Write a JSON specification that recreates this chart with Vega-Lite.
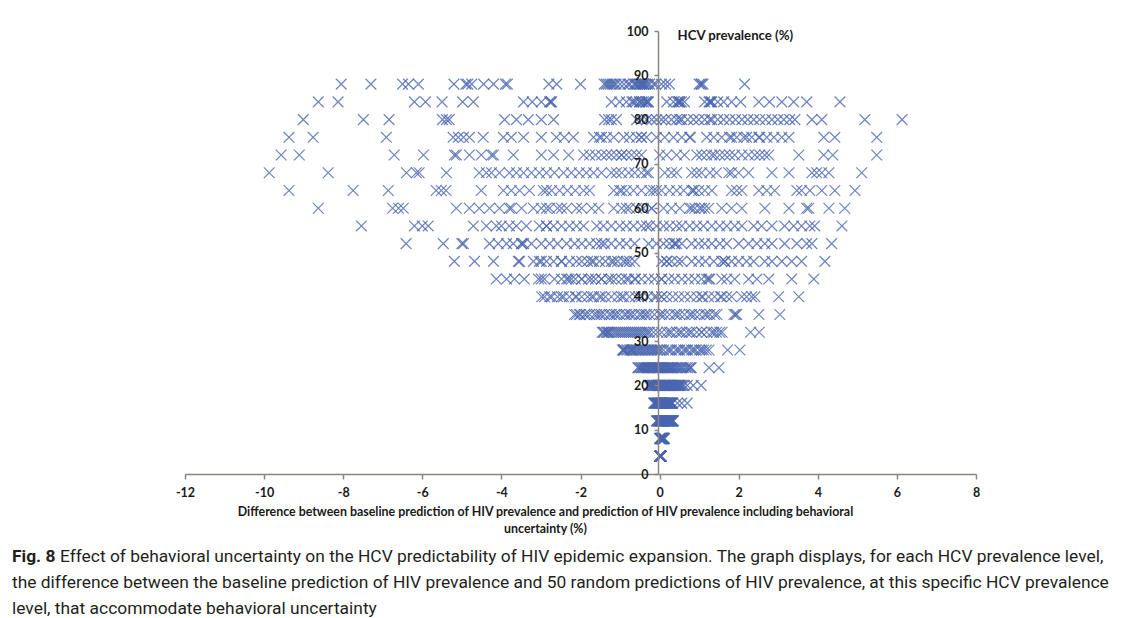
{
"$schema": "https://vega.github.io/schema/vega-lite/v6.json",
"width": 791, "height": 443,
"autosize": {"type": "none"},
"padding": {"left": 185, "top": 31, "right": 165, "bottom": 144},
"background": "white",
"config": {"view": {"stroke": null}, "font": "Lato"},
"title": {
 "text": "Fig. 8",
 "subtitle": ["\u2800\u2800\u2800\u2800Effect of behavioral uncertainty on the HCV predictability of HIV epidemic expansion. The graph displays, for each HCV prevalence level,", "the difference between the baseline prediction of HIV prevalence and 50 random predictions of HIV prevalence, at this specific HCV prevalence", "level, that accommodate behavioral uncertainty"],
 "orient": "bottom", "anchor": "start", "frame": "group", "dx": -173, "offset": 14,
 "font": "Roboto", "fontSize": 17.4, "fontWeight": "bold", "color": "#231f20",
 "subtitleFont": "Roboto", "subtitleFontSize": 17.4, "subtitleColor": "#231f20", "subtitleLineHeight": 26, "subtitlePadding": -17.4, "subtitleFontWeight": "normal"
},
"data": {"values": [
{"h":88,"d":-8.05},{"h":88,"d":-7.3},{"h":88,"d":-6.5},{"h":88,"d":-6.35},{"h":88,"d":-6.1},{"h":88,"d":-5.2},{"h":88,"d":-4.9},{"h":88,"d":-4.85},{"h":88,"d":-4.75},{"h":88,"d":-4.45},{"h":88,"d":-4.2},{"h":88,"d":-3.9},{"h":88,"d":-3.85},{"h":88,"d":-2.8},{"h":88,"d":-2.6},{"h":88,"d":-2.0},{"h":88,"d":-1.4},{"h":88,"d":-1.35},{"h":88,"d":-1.3},{"h":88,"d":-1.25},{"h":88,"d":-1.2},{"h":88,"d":-1.15},{"h":88,"d":-1.0},{"h":88,"d":-0.9},{"h":88,"d":-0.8},{"h":88,"d":-0.75},{"h":88,"d":-0.65},{"h":88,"d":-0.6},{"h":88,"d":-0.55},{"h":88,"d":-0.5},{"h":88,"d":-0.5},{"h":88,"d":-0.45},{"h":88,"d":-0.4},{"h":88,"d":-0.4},{"h":88,"d":-0.35},{"h":88,"d":-0.3},{"h":88,"d":-0.25},{"h":88,"d":-0.15},{"h":88,"d":-0.1},{"h":88,"d":0.05},{"h":88,"d":0.15},{"h":88,"d":0.25},{"h":88,"d":1.0},{"h":88,"d":1.05},{"h":88,"d":1.05},{"h":88,"d":1.1},{"h":88,"d":2.15},{"h":88,"d":-0.6},{"h":88,"d":-1.1},{"h":88,"d":-0.45},
{"h":84,"d":-8.63},{"h":84,"d":-8.13},{"h":84,"d":-6.2},{"h":84,"d":-5.92},{"h":84,"d":-5.5},{"h":84,"d":-4.98},{"h":84,"d":-4.71},{"h":84,"d":-3.44},{"h":84,"d":-3.22},{"h":84,"d":-2.99},{"h":84,"d":-2.78},{"h":84,"d":-2.73},{"h":84,"d":-1.22},{"h":84,"d":-1.01},{"h":84,"d":-0.84},{"h":84,"d":-0.66},{"h":84,"d":-0.51},{"h":84,"d":-0.41},{"h":84,"d":-0.33},{"h":84,"d":-0.28},{"h":84,"d":0.18},{"h":84,"d":0.35},{"h":84,"d":0.48},{"h":84,"d":0.51},{"h":84,"d":0.63},{"h":84,"d":1.14},{"h":84,"d":1.27},{"h":84,"d":1.32},{"h":84,"d":1.47},{"h":84,"d":1.62},{"h":84,"d":1.82},{"h":84,"d":2.05},{"h":84,"d":2.51},{"h":84,"d":2.78},{"h":84,"d":3.09},{"h":84,"d":3.39},{"h":84,"d":3.72},{"h":84,"d":4.56},{"h":84,"d":-0.45},{"h":84,"d":-0.5},{"h":84,"d":-0.6},{"h":84,"d":-0.7},{"h":84,"d":0.45},{"h":84,"d":0.5},{"h":84,"d":1.25},{"h":84,"d":1.3},{"h":84,"d":-2.75},{"h":84,"d":0.55},{"h":84,"d":-0.35},{"h":84,"d":-0.3},
{"h":80,"d":-9.01},{"h":80,"d":-7.49},{"h":80,"d":-6.84},{"h":80,"d":-5.49},{"h":80,"d":-5.39},{"h":80,"d":-5.32},{"h":80,"d":-3.92},{"h":80,"d":-3.62},{"h":80,"d":-3.32},{"h":80,"d":-2.99},{"h":80,"d":-2.68},{"h":80,"d":-1.39},{"h":80,"d":-1.29},{"h":80,"d":-1.22},{"h":80,"d":-1.09},{"h":80,"d":-0.58},{"h":80,"d":-0.46},{"h":80,"d":-0.33},{"h":80,"d":-0.2},{"h":80,"d":-0.08},{"h":80,"d":0.05},{"h":80,"d":0.15},{"h":80,"d":0.3},{"h":80,"d":0.43},{"h":80,"d":0.51},{"h":80,"d":0.56},{"h":80,"d":0.71},{"h":80,"d":0.86},{"h":80,"d":0.99},{"h":80,"d":1.14},{"h":80,"d":1.27},{"h":80,"d":1.32},{"h":80,"d":1.47},{"h":80,"d":1.62},{"h":80,"d":1.77},{"h":80,"d":1.92},{"h":80,"d":2.08},{"h":80,"d":2.23},{"h":80,"d":2.38},{"h":80,"d":2.53},{"h":80,"d":2.68},{"h":80,"d":2.84},{"h":80,"d":2.99},{"h":80,"d":3.14},{"h":80,"d":3.29},{"h":80,"d":3.42},{"h":80,"d":3.85},{"h":80,"d":4.1},{"h":80,"d":5.19},{"h":80,"d":6.13},
{"h":76,"d":-9.37},{"h":76,"d":-8.76},{"h":76,"d":-6.91},{"h":76,"d":-5.22},{"h":76,"d":-5.09},{"h":76,"d":-4.96},{"h":76,"d":-4.81},{"h":76,"d":-4.46},{"h":76,"d":-3.95},{"h":76,"d":-3.75},{"h":76,"d":-3.44},{"h":76,"d":-2.99},{"h":76,"d":-2.61},{"h":76,"d":-2.41},{"h":76,"d":-2.18},{"h":76,"d":-1.67},{"h":76,"d":-1.52},{"h":76,"d":-1.34},{"h":76,"d":-1.16},{"h":76,"d":-0.91},{"h":76,"d":-0.76},{"h":76,"d":-0.58},{"h":76,"d":-0.46},{"h":76,"d":-0.33},{"h":76,"d":-0.08},{"h":76,"d":0.13},{"h":76,"d":0.35},{"h":76,"d":0.56},{"h":76,"d":0.76},{"h":76,"d":0.78},{"h":76,"d":1.19},{"h":76,"d":1.37},{"h":76,"d":1.57},{"h":76,"d":1.77},{"h":76,"d":1.82},{"h":76,"d":1.95},{"h":76,"d":2.13},{"h":76,"d":2.33},{"h":76,"d":2.51},{"h":76,"d":2.53},{"h":76,"d":2.71},{"h":76,"d":2.89},{"h":76,"d":3.09},{"h":76,"d":3.27},{"h":76,"d":4.15},{"h":76,"d":4.43},{"h":76,"d":2.2},{"h":76,"d":5.49},{"h":76,"d":-1.47},{"h":76,"d":-0.46},
{"h":72,"d":-9.57},{"h":72,"d":-9.11},{"h":72,"d":-6.71},{"h":72,"d":-5.97},{"h":72,"d":-5.19},{"h":72,"d":-5.14},{"h":72,"d":-4.81},{"h":72,"d":-4.51},{"h":72,"d":-4.25},{"h":72,"d":-4.2},{"h":72,"d":-3.7},{"h":72,"d":-2.99},{"h":72,"d":-2.68},{"h":72,"d":-2.3},{"h":72,"d":-1.92},{"h":72,"d":-1.77},{"h":72,"d":-1.62},{"h":72,"d":-1.47},{"h":72,"d":-1.34},{"h":72,"d":-1.22},{"h":72,"d":-1.09},{"h":72,"d":-0.96},{"h":72,"d":-0.84},{"h":72,"d":-0.71},{"h":72,"d":-0.58},{"h":72,"d":-0.46},{"h":72,"d":0.0},{"h":72,"d":0.18},{"h":72,"d":0.43},{"h":72,"d":0.63},{"h":72,"d":0.94},{"h":72,"d":1.06},{"h":72,"d":1.19},{"h":72,"d":1.32},{"h":72,"d":1.39},{"h":72,"d":1.52},{"h":72,"d":1.65},{"h":72,"d":1.77},{"h":72,"d":1.9},{"h":72,"d":2.08},{"h":72,"d":2.25},{"h":72,"d":2.41},{"h":72,"d":2.53},{"h":72,"d":2.66},{"h":72,"d":2.76},{"h":72,"d":3.52},{"h":72,"d":4.15},{"h":72,"d":4.38},{"h":72,"d":5.49},{"h":72,"d":-0.96},
{"h":68,"d":-9.87},{"h":68,"d":-8.38},{"h":68,"d":-6.4},{"h":68,"d":-6.15},{"h":68,"d":-6.08},{"h":68,"d":-5.39},{"h":68,"d":-4.56},{"h":68,"d":-4.38},{"h":68,"d":-4.25},{"h":68,"d":-4.05},{"h":68,"d":-3.8},{"h":68,"d":-3.62},{"h":68,"d":-3.44},{"h":68,"d":-3.24},{"h":68,"d":-3.04},{"h":68,"d":-2.86},{"h":68,"d":-2.66},{"h":68,"d":-2.43},{"h":68,"d":-2.23},{"h":68,"d":-2.03},{"h":68,"d":-1.85},{"h":68,"d":-1.67},{"h":68,"d":-1.47},{"h":68,"d":-1.22},{"h":68,"d":-1.09},{"h":68,"d":-0.96},{"h":68,"d":-0.78},{"h":68,"d":-0.63},{"h":68,"d":-0.46},{"h":68,"d":-0.33},{"h":68,"d":-0.28},{"h":68,"d":0.13},{"h":68,"d":0.3},{"h":68,"d":0.43},{"h":68,"d":0.81},{"h":68,"d":0.94},{"h":68,"d":1.06},{"h":68,"d":1.27},{"h":68,"d":1.44},{"h":68,"d":1.75},{"h":68,"d":1.82},{"h":68,"d":2.0},{"h":68,"d":2.25},{"h":68,"d":2.84},{"h":68,"d":3.27},{"h":68,"d":3.85},{"h":68,"d":3.97},{"h":68,"d":4.1},{"h":68,"d":4.28},{"h":68,"d":5.11},
{"h":64,"d":-9.37},{"h":64,"d":-7.75},{"h":64,"d":-6.86},{"h":64,"d":-5.65},{"h":64,"d":-5.52},{"h":64,"d":-5.4},{"h":64,"d":-4.51},{"h":64,"d":-3.95},{"h":64,"d":-3.75},{"h":64,"d":-3.54},{"h":64,"d":-3.29},{"h":64,"d":-2.94},{"h":64,"d":-2.73},{"h":64,"d":-2.53},{"h":64,"d":-2.33},{"h":64,"d":-2.13},{"h":64,"d":-1.92},{"h":64,"d":-1.77},{"h":64,"d":-1.16},{"h":64,"d":-1.01},{"h":64,"d":-0.84},{"h":64,"d":-0.66},{"h":64,"d":-0.46},{"h":64,"d":-0.25},{"h":64,"d":-0.08},{"h":64,"d":-0.15},{"h":64,"d":0.05},{"h":64,"d":0.25},{"h":64,"d":0.43},{"h":64,"d":0.61},{"h":64,"d":0.81},{"h":64,"d":0.86},{"h":64,"d":0.99},{"h":64,"d":1.14},{"h":64,"d":1.32},{"h":64,"d":1.82},{"h":64,"d":1.95},{"h":64,"d":2.08},{"h":64,"d":2.51},{"h":64,"d":2.71},{"h":64,"d":2.91},{"h":64,"d":3.47},{"h":64,"d":3.59},{"h":64,"d":3.8},{"h":64,"d":4.1},{"h":64,"d":4.43},{"h":64,"d":4.94},{"h":64,"d":-0.96},{"h":64,"d":-2.86},{"h":64,"d":0.86},
{"h":60,"d":-8.63},{"h":60,"d":-6.75},{"h":60,"d":-6.6},{"h":60,"d":-6.48},{"h":60,"d":-5.14},{"h":60,"d":-4.81},{"h":60,"d":-4.56},{"h":60,"d":-4.3},{"h":60,"d":-4.05},{"h":60,"d":-3.8},{"h":60,"d":-3.49},{"h":60,"d":-3.19},{"h":60,"d":-2.99},{"h":60,"d":-2.78},{"h":60,"d":-2.58},{"h":60,"d":-2.35},{"h":60,"d":-2.1},{"h":60,"d":-1.97},{"h":60,"d":-1.72},{"h":60,"d":-1.54},{"h":60,"d":-1.16},{"h":60,"d":-0.96},{"h":60,"d":-0.76},{"h":60,"d":-0.58},{"h":60,"d":-0.41},{"h":60,"d":-0.2},{"h":60,"d":0.1},{"h":60,"d":0.3},{"h":60,"d":0.51},{"h":60,"d":0.76},{"h":60,"d":0.89},{"h":60,"d":1.01},{"h":60,"d":1.14},{"h":60,"d":1.24},{"h":60,"d":1.57},{"h":60,"d":1.82},{"h":60,"d":2.08},{"h":60,"d":2.66},{"h":60,"d":3.27},{"h":60,"d":3.72},{"h":60,"d":3.77},{"h":60,"d":4.28},{"h":60,"d":4.68},{"h":60,"d":-2.48},{"h":60,"d":1.06},{"h":60,"d":-0.84},{"h":60,"d":-2.86},{"h":60,"d":0.81},{"h":60,"d":-3.75},{"h":60,"d":-0.2},
{"h":56,"d":-7.54},{"h":56,"d":-6.2},{"h":56,"d":-6.0},{"h":56,"d":-5.85},{"h":56,"d":-4.71},{"h":56,"d":-4.38},{"h":56,"d":-4.13},{"h":56,"d":-4.0},{"h":56,"d":-3.8},{"h":56,"d":-3.62},{"h":56,"d":-3.37},{"h":56,"d":-3.04},{"h":56,"d":-2.86},{"h":56,"d":-2.68},{"h":56,"d":-2.48},{"h":56,"d":-2.28},{"h":56,"d":-2.1},{"h":56,"d":-1.92},{"h":56,"d":-1.59},{"h":56,"d":-1.42},{"h":56,"d":-1.22},{"h":56,"d":-1.01},{"h":56,"d":-0.84},{"h":56,"d":-0.66},{"h":56,"d":-0.46},{"h":56,"d":-0.25},{"h":56,"d":-0.08},{"h":56,"d":0.1},{"h":56,"d":0.25},{"h":56,"d":0.43},{"h":56,"d":0.56},{"h":56,"d":0.76},{"h":56,"d":0.94},{"h":56,"d":1.11},{"h":56,"d":1.32},{"h":56,"d":1.52},{"h":56,"d":1.7},{"h":56,"d":1.9},{"h":56,"d":2.08},{"h":56,"d":2.38},{"h":56,"d":2.58},{"h":56,"d":2.84},{"h":56,"d":3.16},{"h":56,"d":3.39},{"h":56,"d":3.59},{"h":56,"d":3.8},{"h":56,"d":3.92},{"h":56,"d":4.61},{"h":56,"d":-2.86},{"h":56,"d":-0.33},
{"h":52,"d":-6.41},{"h":52,"d":-5.47},{"h":52,"d":-5.0},{"h":52,"d":-4.96},{"h":52,"d":-4.3},{"h":52,"d":-4.08},{"h":52,"d":-3.87},{"h":52,"d":-3.7},{"h":52,"d":-3.49},{"h":52,"d":-3.44},{"h":52,"d":-3.24},{"h":52,"d":-2.99},{"h":52,"d":-2.78},{"h":52,"d":-2.58},{"h":52,"d":-2.35},{"h":52,"d":-2.15},{"h":52,"d":-1.97},{"h":52,"d":-1.77},{"h":52,"d":-1.59},{"h":52,"d":-1.39},{"h":52,"d":-1.22},{"h":52,"d":-1.01},{"h":52,"d":-0.84},{"h":52,"d":-0.63},{"h":52,"d":-0.28},{"h":52,"d":-0.08},{"h":52,"d":0.1},{"h":52,"d":0.25},{"h":52,"d":0.38},{"h":52,"d":0.43},{"h":52,"d":0.56},{"h":52,"d":0.81},{"h":52,"d":0.99},{"h":52,"d":1.14},{"h":52,"d":1.32},{"h":52,"d":1.52},{"h":52,"d":1.7},{"h":52,"d":2.0},{"h":52,"d":2.25},{"h":52,"d":2.46},{"h":52,"d":2.66},{"h":52,"d":2.84},{"h":52,"d":3.16},{"h":52,"d":3.47},{"h":52,"d":3.72},{"h":52,"d":3.85},{"h":52,"d":4.35},{"h":52,"d":-1.47},{"h":52,"d":-3.49},{"h":52,"d":0.38},
{"h":48,"d":-5.19},{"h":48,"d":-4.68},{"h":48,"d":-4.2},{"h":48,"d":-3.57},{"h":48,"d":-3.54},{"h":48,"d":-3.19},{"h":48,"d":-3.04},{"h":48,"d":-2.86},{"h":48,"d":-2.68},{"h":48,"d":-2.48},{"h":48,"d":-2.28},{"h":48,"d":-2.1},{"h":48,"d":-1.97},{"h":48,"d":-1.82},{"h":48,"d":-1.67},{"h":48,"d":-1.52},{"h":48,"d":-1.37},{"h":48,"d":-1.22},{"h":48,"d":-1.06},{"h":48,"d":-0.91},{"h":48,"d":-0.76},{"h":48,"d":-0.63},{"h":48,"d":0.05},{"h":48,"d":0.18},{"h":48,"d":0.3},{"h":48,"d":0.46},{"h":48,"d":0.56},{"h":48,"d":0.81},{"h":48,"d":0.99},{"h":48,"d":1.16},{"h":48,"d":1.37},{"h":48,"d":1.57},{"h":48,"d":1.65},{"h":48,"d":1.82},{"h":48,"d":2.0},{"h":48,"d":2.2},{"h":48,"d":2.38},{"h":48,"d":2.66},{"h":48,"d":2.84},{"h":48,"d":3.09},{"h":48,"d":3.34},{"h":48,"d":3.59},{"h":48,"d":4.18},{"h":48,"d":-2.99},{"h":48,"d":-1.72},{"h":48,"d":-1.16},{"h":48,"d":0.18},{"h":48,"d":1.65},{"h":48,"d":-2.48},{"h":48,"d":-0.84},
{"h":44,"d":-4.13},{"h":44,"d":-3.87},{"h":44,"d":-3.67},{"h":44,"d":-3.42},{"h":44,"d":-3.06},{"h":44,"d":-2.91},{"h":44,"d":-2.66},{"h":44,"d":-2.48},{"h":44,"d":-2.3},{"h":44,"d":-2.13},{"h":44,"d":-1.97},{"h":44,"d":-1.8},{"h":44,"d":-1.62},{"h":44,"d":-1.47},{"h":44,"d":-1.29},{"h":44,"d":-1.11},{"h":44,"d":-0.96},{"h":44,"d":-0.78},{"h":44,"d":-0.61},{"h":44,"d":-0.46},{"h":44,"d":-0.28},{"h":44,"d":-0.13},{"h":44,"d":0.05},{"h":44,"d":0.23},{"h":44,"d":0.38},{"h":44,"d":0.56},{"h":44,"d":0.73},{"h":44,"d":0.89},{"h":44,"d":1.06},{"h":44,"d":1.24},{"h":44,"d":1.27},{"h":44,"d":1.57},{"h":44,"d":1.7},{"h":44,"d":1.9},{"h":44,"d":2.25},{"h":44,"d":2.46},{"h":44,"d":2.76},{"h":44,"d":3.34},{"h":44,"d":3.9},{"h":44,"d":-2.35},{"h":44,"d":-1.72},{"h":44,"d":-1.22},{"h":44,"d":-0.84},{"h":44,"d":-2.23},{"h":44,"d":-1.47},{"h":44,"d":0.05},{"h":44,"d":-2.99},{"h":44,"d":-1.97},{"h":44,"d":-0.63},{"h":44,"d":1.19},
{"h":40,"d":-2.98},{"h":40,"d":-2.91},{"h":40,"d":-2.73},{"h":40,"d":-2.58},{"h":40,"d":-2.43},{"h":40,"d":-2.28},{"h":40,"d":-2.13},{"h":40,"d":-1.97},{"h":40,"d":-1.82},{"h":40,"d":-1.67},{"h":40,"d":-1.52},{"h":40,"d":-1.37},{"h":40,"d":-1.22},{"h":40,"d":-1.06},{"h":40,"d":-0.91},{"h":40,"d":-0.76},{"h":40,"d":-0.61},{"h":40,"d":-0.46},{"h":40,"d":-0.3},{"h":40,"d":-0.13},{"h":40,"d":0.05},{"h":40,"d":0.18},{"h":40,"d":0.33},{"h":40,"d":0.48},{"h":40,"d":0.63},{"h":40,"d":0.78},{"h":40,"d":0.94},{"h":40,"d":1.09},{"h":40,"d":1.24},{"h":40,"d":1.39},{"h":40,"d":1.54},{"h":40,"d":1.7},{"h":40,"d":1.82},{"h":40,"d":2.08},{"h":40,"d":2.2},{"h":40,"d":2.33},{"h":40,"d":2.41},{"h":40,"d":3.01},{"h":40,"d":3.52},{"h":40,"d":-2.48},{"h":40,"d":-2.1},{"h":40,"d":-1.72},{"h":40,"d":-1.47},{"h":40,"d":-0.96},{"h":40,"d":-0.08},{"h":40,"d":0.05},{"h":40,"d":1.06},{"h":40,"d":1.57},{"h":40,"d":-2.78},{"h":40,"d":-0.53},
{"h":36,"d":-2.15},{"h":36,"d":-2.1},{"h":36,"d":-2.03},{"h":36,"d":-1.9},{"h":36,"d":-1.77},{"h":36,"d":-1.65},{"h":36,"d":-1.52},{"h":36,"d":-1.39},{"h":36,"d":-1.27},{"h":36,"d":-1.14},{"h":36,"d":-1.01},{"h":36,"d":-0.89},{"h":36,"d":-0.76},{"h":36,"d":-0.63},{"h":36,"d":-0.51},{"h":36,"d":-0.38},{"h":36,"d":-0.25},{"h":36,"d":-0.13},{"h":36,"d":0.0},{"h":36,"d":0.13},{"h":36,"d":0.25},{"h":36,"d":0.38},{"h":36,"d":0.51},{"h":36,"d":0.63},{"h":36,"d":0.76},{"h":36,"d":0.89},{"h":36,"d":1.01},{"h":36,"d":1.14},{"h":36,"d":1.27},{"h":36,"d":1.39},{"h":36,"d":1.45},{"h":36,"d":1.88},{"h":36,"d":1.92},{"h":36,"d":1.95},{"h":36,"d":2.51},{"h":36,"d":3.04},{"h":36,"d":-1.85},{"h":36,"d":-1.47},{"h":36,"d":-1.09},{"h":36,"d":-0.71},{"h":36,"d":-0.33},{"h":36,"d":0.05},{"h":36,"d":0.43},{"h":36,"d":0.81},{"h":36,"d":1.19},{"h":36,"d":-1.59},{"h":36,"d":-1.22},{"h":36,"d":-0.84},{"h":36,"d":-0.46},{"h":36,"d":-2.0},
{"h":32,"d":-1.45},{"h":32,"d":-1.4},{"h":32,"d":-1.35},{"h":32,"d":-1.27},{"h":32,"d":-1.16},{"h":32,"d":-1.06},{"h":32,"d":-0.96},{"h":32,"d":-0.86},{"h":32,"d":-0.76},{"h":32,"d":-0.66},{"h":32,"d":-0.56},{"h":32,"d":-0.46},{"h":32,"d":-0.35},{"h":32,"d":-0.25},{"h":32,"d":-0.15},{"h":32,"d":-0.05},{"h":32,"d":0.05},{"h":32,"d":0.18},{"h":32,"d":0.3},{"h":32,"d":0.43},{"h":32,"d":0.56},{"h":32,"d":0.68},{"h":32,"d":0.81},{"h":32,"d":0.94},{"h":32,"d":1.06},{"h":32,"d":1.19},{"h":32,"d":1.32},{"h":32,"d":1.44},{"h":32,"d":1.52},{"h":32,"d":1.58},{"h":32,"d":2.3},{"h":32,"d":2.52},{"h":32,"d":-1.42},{"h":32,"d":-1.32},{"h":32,"d":-1.22},{"h":32,"d":-1.11},{"h":32,"d":-1.01},{"h":32,"d":-0.91},{"h":32,"d":-0.81},{"h":32,"d":-0.71},{"h":32,"d":-0.61},{"h":32,"d":-0.51},{"h":32,"d":-0.41},{"h":32,"d":-0.3},{"h":32,"d":0.25},{"h":32,"d":0.51},{"h":32,"d":0.76},{"h":32,"d":1.06},{"h":32,"d":1.37},{"h":32,"d":-1.3},
{"h":28,"d":-0.94},{"h":28,"d":-0.92},{"h":28,"d":-0.89},{"h":28,"d":-0.81},{"h":28,"d":-0.73},{"h":28,"d":-0.66},{"h":28,"d":-0.58},{"h":28,"d":-0.51},{"h":28,"d":-0.43},{"h":28,"d":-0.35},{"h":28,"d":-0.28},{"h":28,"d":-0.2},{"h":28,"d":-0.13},{"h":28,"d":-0.05},{"h":28,"d":0.03},{"h":28,"d":0.1},{"h":28,"d":0.2},{"h":28,"d":0.3},{"h":28,"d":0.41},{"h":28,"d":0.51},{"h":28,"d":0.61},{"h":28,"d":0.71},{"h":28,"d":0.81},{"h":28,"d":0.91},{"h":28,"d":1.01},{"h":28,"d":1.11},{"h":28,"d":1.18},{"h":28,"d":1.25},{"h":28,"d":1.72},{"h":28,"d":2.03},{"h":28,"d":-0.9},{"h":28,"d":-0.91},{"h":28,"d":-0.84},{"h":28,"d":-0.76},{"h":28,"d":-0.68},{"h":28,"d":-0.61},{"h":28,"d":-0.53},{"h":28,"d":-0.46},{"h":28,"d":-0.38},{"h":28,"d":-0.3},{"h":28,"d":-0.23},{"h":28,"d":-0.15},{"h":28,"d":-0.08},{"h":28,"d":0.0},{"h":28,"d":0.25},{"h":28,"d":0.46},{"h":28,"d":0.66},{"h":28,"d":0.86},{"h":28,"d":1.06},{"h":28,"d":-0.71},
{"h":24,"d":-0.55},{"h":24,"d":-0.53},{"h":24,"d":-0.5},{"h":24,"d":-0.46},{"h":24,"d":-0.45},{"h":24,"d":-0.41},{"h":24,"d":-0.4},{"h":24,"d":-0.37},{"h":24,"d":-0.34},{"h":24,"d":-0.32},{"h":24,"d":-0.29},{"h":24,"d":-0.27},{"h":24,"d":-0.24},{"h":24,"d":-0.22},{"h":24,"d":-0.19},{"h":24,"d":-0.17},{"h":24,"d":-0.15},{"h":24,"d":-0.12},{"h":24,"d":-0.09},{"h":24,"d":-0.07},{"h":24,"d":-0.04},{"h":24,"d":-0.02},{"h":24,"d":0.0},{"h":24,"d":0.03},{"h":24,"d":0.06},{"h":24,"d":0.08},{"h":24,"d":0.1},{"h":24,"d":0.14},{"h":24,"d":0.15},{"h":24,"d":0.19},{"h":24,"d":0.2},{"h":24,"d":0.23},{"h":24,"d":0.26},{"h":24,"d":0.28},{"h":24,"d":0.31},{"h":24,"d":0.33},{"h":24,"d":0.36},{"h":24,"d":0.4},{"h":24,"d":0.44},{"h":24,"d":0.47},{"h":24,"d":0.52},{"h":24,"d":0.56},{"h":24,"d":0.6},{"h":24,"d":0.66},{"h":24,"d":0.7},{"h":24,"d":0.75},{"h":24,"d":0.8},{"h":24,"d":0.78},{"h":24,"d":1.25},{"h":24,"d":1.5},
{"h":20,"d":-0.28},{"h":20,"d":-0.26},{"h":20,"d":-0.23},{"h":20,"d":-0.22},{"h":20,"d":-0.19},{"h":20,"d":-0.17},{"h":20,"d":-0.16},{"h":20,"d":-0.13},{"h":20,"d":-0.12},{"h":20,"d":-0.09},{"h":20,"d":-0.08},{"h":20,"d":-0.05},{"h":20,"d":-0.04},{"h":20,"d":-0.02},{"h":20,"d":0.0},{"h":20,"d":0.01},{"h":20,"d":0.04},{"h":20,"d":0.05},{"h":20,"d":0.07},{"h":20,"d":0.09},{"h":20,"d":0.12},{"h":20,"d":0.13},{"h":20,"d":0.15},{"h":20,"d":0.18},{"h":20,"d":0.19},{"h":20,"d":0.21},{"h":20,"d":0.24},{"h":20,"d":0.25},{"h":20,"d":0.27},{"h":20,"d":0.3},{"h":20,"d":0.31},{"h":20,"d":0.34},{"h":20,"d":0.35},{"h":20,"d":0.37},{"h":20,"d":0.4},{"h":20,"d":0.41},{"h":20,"d":0.44},{"h":20,"d":0.46},{"h":20,"d":0.48},{"h":20,"d":0.5},{"h":20,"d":0.52},{"h":20,"d":0.55},{"h":20,"d":0.58},{"h":20,"d":0.62},{"h":20,"d":0.7},{"h":20,"d":0.85},{"h":20,"d":1.05},{"h":20,"d":-0.27},{"h":20,"d":0.1},{"h":20,"d":0.49},
{"h":16,"d":-0.15},{"h":16,"d":-0.13},{"h":16,"d":-0.12},{"h":16,"d":-0.1},{"h":16,"d":-0.1},{"h":16,"d":-0.08},{"h":16,"d":-0.07},{"h":16,"d":-0.05},{"h":16,"d":-0.04},{"h":16,"d":-0.03},{"h":16,"d":-0.01},{"h":16,"d":0.0},{"h":16,"d":0.0},{"h":16,"d":0.02},{"h":16,"d":0.03},{"h":16,"d":0.04},{"h":16,"d":0.05},{"h":16,"d":0.07},{"h":16,"d":0.08},{"h":16,"d":0.08},{"h":16,"d":0.1},{"h":16,"d":0.11},{"h":16,"d":0.12},{"h":16,"d":0.13},{"h":16,"d":0.15},{"h":16,"d":0.16},{"h":16,"d":0.17},{"h":16,"d":0.18},{"h":16,"d":0.2},{"h":16,"d":0.21},{"h":16,"d":0.22},{"h":16,"d":0.22},{"h":16,"d":0.24},{"h":16,"d":0.25},{"h":16,"d":0.26},{"h":16,"d":0.27},{"h":16,"d":0.28},{"h":16,"d":0.3},{"h":16,"d":0.31},{"h":16,"d":0.32},{"h":16,"d":0.33},{"h":16,"d":0.05},{"h":16,"d":-0.06},{"h":16,"d":0.14},{"h":16,"d":0.19},{"h":16,"d":0.29},{"h":16,"d":0.12},{"h":16,"d":0.45},{"h":16,"d":0.56},{"h":16,"d":0.7},
{"h":12,"d":-0.08},{"h":12,"d":-0.07},{"h":12,"d":-0.05},{"h":12,"d":-0.04},{"h":12,"d":-0.02},{"h":12,"d":-0.01},{"h":12,"d":0.0},{"h":12,"d":0.01},{"h":12,"d":0.03},{"h":12,"d":0.04},{"h":12,"d":0.05},{"h":12,"d":0.06},{"h":12,"d":0.08},{"h":12,"d":0.09},{"h":12,"d":0.1},{"h":12,"d":0.1},{"h":12,"d":0.12},{"h":12,"d":0.13},{"h":12,"d":0.14},{"h":12,"d":0.15},{"h":12,"d":0.17},{"h":12,"d":0.18},{"h":12,"d":0.19},{"h":12,"d":0.2},{"h":12,"d":0.21},{"h":12,"d":0.22},{"h":12,"d":0.24},{"h":12,"d":0.25},{"h":12,"d":0.26},{"h":12,"d":0.27},{"h":12,"d":0.28},{"h":12,"d":0.3},{"h":12,"d":0.31},{"h":12,"d":0.32},{"h":12,"d":0.33},{"h":12,"d":0.35},{"h":12,"d":0.02},{"h":12,"d":0.07},{"h":12,"d":0.11},{"h":12,"d":0.16},{"h":12,"d":0.23},{"h":12,"d":0.29},{"h":12,"d":0.34},{"h":12,"d":-0.03},{"h":12,"d":0.05},{"h":12,"d":0.12},{"h":12,"d":0.18},{"h":12,"d":0.26},{"h":12,"d":0.31},{"h":12,"d":0.2},
{"h":8,"d":0.0},{"h":8,"d":0.01},{"h":8,"d":0.02},{"h":8,"d":0.02},{"h":8,"d":0.03},{"h":8,"d":0.04},{"h":8,"d":0.04},{"h":8,"d":0.05},{"h":8,"d":0.05},{"h":8,"d":0.06},{"h":8,"d":0.06},{"h":8,"d":0.07},{"h":8,"d":0.07},{"h":8,"d":0.08},{"h":8,"d":0.08},{"h":8,"d":0.09},{"h":8,"d":0.09},{"h":8,"d":0.1},{"h":8,"d":0.1},{"h":8,"d":0.11},{"h":8,"d":0.12},{"h":8,"d":0.12},{"h":8,"d":0.03},{"h":8,"d":0.05},{"h":8,"d":0.07},{"h":8,"d":0.09},{"h":8,"d":0.11},{"h":8,"d":0.01},{"h":8,"d":0.06},{"h":8,"d":0.08},{"h":8,"d":0.1},{"h":8,"d":0.04},{"h":8,"d":0.02},{"h":8,"d":0.05},{"h":8,"d":0.07},{"h":8,"d":0.09},{"h":8,"d":0.03},{"h":8,"d":0.06},{"h":8,"d":0.08},{"h":8,"d":0.11},{"h":8,"d":0.0},{"h":8,"d":0.04},{"h":8,"d":0.06},{"h":8,"d":0.1},{"h":8,"d":0.12},{"h":8,"d":0.05},{"h":8,"d":0.07},{"h":8,"d":0.09},{"h":8,"d":0.03},{"h":8,"d":0.08},
{"h":4,"d":0.01},{"h":4,"d":0.02},{"h":4,"d":0.02},{"h":4,"d":0.03},{"h":4,"d":0.02},{"h":4,"d":0.01},{"h":4,"d":0.03},{"h":4,"d":0.02},{"h":4,"d":0.04},{"h":4,"d":0.02},{"h":4,"d":0.01},{"h":4,"d":0.02},{"h":4,"d":0.03},{"h":4,"d":0.02},{"h":4,"d":0.02},{"h":4,"d":0.01},{"h":4,"d":0.03},{"h":4,"d":0.02},{"h":4,"d":0.0},{"h":4,"d":0.02},{"h":4,"d":0.03},{"h":4,"d":0.01},{"h":4,"d":0.02},{"h":4,"d":0.02},{"h":4,"d":0.04},{"h":4,"d":0.02},{"h":4,"d":0.03},{"h":4,"d":0.01},{"h":4,"d":0.02},{"h":4,"d":0.02},{"h":4,"d":0.03},{"h":4,"d":0.02},{"h":4,"d":0.01},{"h":4,"d":0.02},{"h":4,"d":0.03},{"h":4,"d":0.02},{"h":4,"d":0.02},{"h":4,"d":0.01},{"h":4,"d":0.04},{"h":4,"d":0.02},{"h":4,"d":0.03},{"h":4,"d":0.02},{"h":4,"d":0.01},{"h":4,"d":0.02},{"h":4,"d":0.02},{"h":4,"d":0.03},{"h":4,"d":0.02},{"h":4,"d":0.01},{"h":4,"d":0.02},{"h":4,"d":0.03}
]},
"mark": {"type": "point", "shape": "M-1,-1L1,1M-1,1L1,-1", "filled": false, "size": 115, "stroke": "#4a66b0", "strokeWidth": 1.2, "opacity": 0.8},
"encoding": {
 "x": {"field": "d", "type": "quantitative",
  "scale": {"domain": [-12, 8], "nice": false, "zero": false},
  "axis": {"values": [-12, -10, -8, -6, -4, -2, 0, 2, 4, 6, 8], "grid": false, "labelFlush": false, "labelExpr": "toString(datum.value)",
   "labelFont": "Lato", "labelFontSize": 12.5, "labelFontWeight": "bold", "labelColor": "#1a1a1a", "labelPadding": 7,
   "domainColor": "#8a8580", "domainWidth": 1.5, "tickColor": "#8a8580", "tickWidth": 1.5, "tickSize": 5,
   "title": ["Difference between baseline prediction of HIV prevalence and prediction of HIV prevalence including behavioral", "uncertainty (%)"],
   "titleFont": "Lato", "titleFontSize": 12.4, "titleFontWeight": "bold", "titleColor": "#1a1a1a",
   "titleX": 360, "titleY": 31, "titleAlign": "center", "titleBaseline": "top", "titleLineHeight": 17}},
 "y": {"field": "h", "type": "quantitative",
  "scale": {"domain": [0, 100], "nice": false},
  "axis": {"orient": "left", "offset": -473, "values": [0, 10, 20, 30, 40, 50, 60, 70, 80, 90, 100], "grid": false, "labelFlush": false, "zindex": 1,
   "labelFont": "Lato", "labelFontSize": 12.5, "labelFontWeight": "bold", "labelColor": "#1a1a1a", "labelPadding": 6,
   "domainColor": "#8a8580", "domainWidth": 1.5, "tickColor": "#8a8580", "tickWidth": 1.5, "tickSize": 4,
   "title": "HCV prevalence (%)", "titleFont": "Lato", "titleFontSize": 13.2, "titleFontWeight": "bold", "titleColor": "#1a1a1a",
   "titleAngle": 0, "titleAlign": "left", "titleBaseline": "middle", "titleX": 19, "titleY": 4}}
}
}
